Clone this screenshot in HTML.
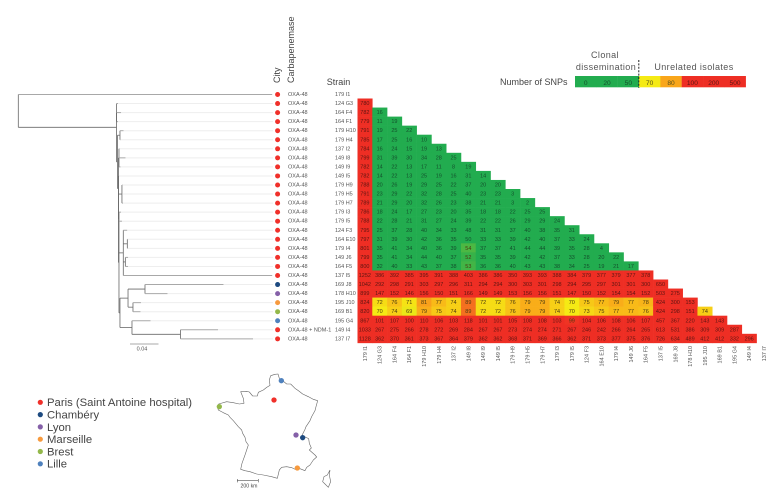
<!DOCTYPE html>
<html lang="en">
<head>
<meta charset="utf-8">
<title>SNP distance matrix and phylogeny</title>
<style>
html,body{margin:0;padding:0;background:#fff;}
svg{display:block;font-family:"Liberation Sans",sans-serif;}
</style>
</head>
<body>
<svg id="chart" xmlns="http://www.w3.org/2000/svg" width="783" height="504" viewBox="0 0 783 504"></svg>
<script>
const strains = ["179 I1","124 G3","164 F4","164 F1","179 H10","179 H4","137 I2","149 I8","149 I9","149 I5","179 H9","179 H5","179 H7","179 I3","179 I5","124 F3","164 E10","179 I4","149 J6","164 F5","137 I5","169 J8","178 H10","195 J10","169 B1","195 G4","149 I4","137 I7"];
const carbapenemases = ["OXA-48","OXA-48","OXA-48","OXA-48","OXA-48","OXA-48","OXA-48","OXA-48","OXA-48","OXA-48","OXA-48","OXA-48","OXA-48","OXA-48","OXA-48","OXA-48","OXA-48","OXA-48","OXA-48","OXA-48","OXA-48","OXA-48","OXA-48","OXA-48","OXA-48","OXA-48","OXA-48 + NDM-1","OXA-48"];
const cities = ["Paris","Paris","Paris","Paris","Paris","Paris","Paris","Paris","Paris","Paris","Paris","Paris","Paris","Paris","Paris","Paris","Paris","Paris","Paris","Paris","Paris","Chambéry","Lyon","Marseille","Brest","Lille","Paris","Paris"];
const snpMatrix = [
[780],
[782,16],
[779,11,19],
[791,19,25,22],
[785,17,25,16,10],
[784,16,24,15,19,13],
[799,31,39,30,34,28,25],
[782,14,22,13,17,11,8,19],
[782,14,22,13,25,19,16,31,14],
[788,20,26,19,29,25,22,37,20,20],
[791,23,29,22,32,28,25,40,23,23,3],
[789,21,29,20,32,26,23,38,21,21,3,2],
[786,18,24,17,27,23,20,35,18,18,22,25,25],
[788,22,28,21,31,27,24,39,22,22,26,29,29,24],
[795,25,37,28,40,34,33,48,31,31,37,40,38,35,31],
[797,31,39,30,42,36,35,50,33,33,39,42,40,37,33,24],
[801,35,41,34,40,36,39,54,37,37,41,44,44,39,35,28,4],
[799,35,41,34,44,40,37,52,35,35,39,42,42,37,33,28,20,22],
[800,32,40,33,43,37,38,53,36,36,40,43,43,38,34,25,19,21,17],
[1252,386,392,385,395,391,388,403,386,386,350,393,393,388,384,379,377,379,377,378],
[1042,292,298,291,303,297,296,311,294,294,300,303,301,298,294,295,297,301,301,300,650],
[899,147,152,146,156,150,151,166,149,149,153,156,156,151,147,150,152,154,154,152,503,275],
[824,72,76,71,81,77,74,89,72,72,76,79,79,74,70,75,77,79,77,78,424,300,153],
[820,70,74,69,79,75,74,89,72,72,76,79,79,74,70,73,75,77,77,76,424,298,151,74],
[867,101,107,100,110,106,103,118,101,101,105,108,108,103,99,104,106,108,106,107,457,367,220,143,143],
[1033,267,275,266,278,272,269,284,267,267,273,274,274,271,267,246,242,266,264,265,613,531,386,309,309,287],
[1128,362,370,361,373,367,364,379,362,362,368,371,369,366,362,371,373,377,375,376,726,634,489,412,412,332,296]
];
const tipDepths = [0.3588,0.141,0.1453,0.141,0.1488,0.1445,0.143,0.1516,0.1445,0.1417,0.1474,0.1474,0.1481,0.1453,0.1466,0.154,0.1545,0.1545,0.1552,0.1552,0.3588,0.2902,0.211,0.1735,0.1728,0.187,0.2825,0.332];
const tree = {d:0,kids:[0,{d:0.1389,at:3.68,kids:[
  {d:0.1389,kids:[1,2,3]},
  {d:0.1403,kids:[
    {d:0.1438,kids:[4,5]},
    {d:0.1417,kids:[
      {d:0.1424,kids:[6,7,8]},
      {d:0.1417,kids:[9,
        {d:0.1466,kids:[10,11,12]},
        {d:0.1424,kids:[13,14,
          {d:0.1485,kids:[15,{d:0.1542,kids:[16,17]},{d:0.1514,kids:[18,19]},20]},
          {d:0.1438,kids:[
            {d:0.1552,kids:[{d:0.1792,kids:[21,22]},{d:0.1622,kids:[23,24]}]},
            {d:0.1608,kids:[25,{d:0.2294,kids:[26,27]}]}
          ]}
        ]}
      ]}
    ]}
  ]}
]}]};
const legendTicks = [0,20,50,70,80,100,200,500];
const legendColors = ["#22ac4f","#22ac4f","#22ac4f","#f5ea14","#f9a61a","#ee2e24","#ee2e24","#ee2e24"];
const cityNames = ["Paris (Saint Antoine hospital)","Chambéry","Lyon","Marseille","Brest","Lille"];
const cityKeys = ["Paris","Chambéry","Lyon","Marseille","Brest","Lille"];
const cityColors = ["#f0302a","#1d4a80","#8560a8","#f79a3e","#93b84a","#4f81bd"];
const stopValues = [50,70,80,100];
const stopColors = [[34,172,79],[245,234,20],[249,166,26],[238,46,36]];

const svg = document.getElementById('chart');
const NS = 'http://www.w3.org/2000/svg';
function xCol(c){return 357.5 + 14.78*c;}
function yRow(r){return 94 + 9.05*r;}
function xTree(d){return 18.3 + 707*d;}
function make(tag, attrs, parent){
  const el = document.createElementNS(NS, tag);
  for (const k in attrs) el.setAttribute(k, attrs[k]);
  (parent||svg).appendChild(el);
  return el;
}
function colorOf(v){
  if (v <= stopValues[0]) return 'rgb('+stopColors[0].join(',')+')';
  for (let i=1;i<stopValues.length;i++){
    if (v <= stopValues[i]){
      const t=(v-stopValues[i-1])/(stopValues[i]-stopValues[i-1]);
      const c=stopColors[i].map((s,j)=>Math.round(stopColors[i-1][j]+(s-stopColors[i-1][j])*t));
      return 'rgb('+c.join(',')+')';
    }
  }
  return 'rgb('+stopColors[3].join(',')+')';
}

/* leader lines and tip rows */
const leaders = make('g',{});


const treeGroup = make('g',{fill:'none'});


strains.forEach(function(s,r){
  const l = make('line',{x1:xTree(tipDepths[r]),x2:273,y1:yRow(r)+0.5,y2:yRow(r)+0.5,stroke:'#eeeeee','stroke-width':1},leaders);
  
  
});
function layoutNode(n){
  if (typeof n === 'number') return yRow(n)+0.5;
  const ys = n.kids.map(layoutNode);
  const x = xTree(n.d);
  const lo = Math.min.apply(null,ys), hi = Math.max.apply(null,ys);
  const v = make('line',{x1:x,x2:x,y1:lo,y2:hi,stroke:'#666','stroke-width':0.8},treeGroup);
  
  
  n.kids.forEach(function(k,i){
    const tip = typeof k === 'number';
    const ex = tip ? xTree(tipDepths[k]) : xTree(k.d);
    const h = make('line',{x1:x,x2:ex,y1:ys[i],y2:ys[i],stroke:tip?'#a8a8a8':'#6a6a6a','stroke-width':tip?1:0.8},treeGroup);
    
    
  });
  return n.at !== undefined ? yRow(n.at) : (lo+hi)/2;
}
const rootY = layoutNode(tree);

/* rows */
strains.forEach(function(s,r){
  const city = cities[r];
  const dot = make('circle',{cx:277.6,cy:yRow(r)+0.5,r:2.5,fill:cityColors[cityKeys.indexOf(city)]});
  
  
  const ct = make('text',{x:288,y:yRow(r)+2,'font-size':5.5,fill:'#555'});
  ct.textContent = carbapenemases[r];
  
  
  const st = make('text',{x:335,y:yRow(r)+2,'font-size':5.5,fill:'#555'});
  st.textContent = s;
  
  
  const cx = xCol(r)+7.39;
  const cl = make('text',{x:0,y:0,'font-size':5.5,fill:'#555','text-anchor':'end',transform:'translate('+(cx+2)+',346) rotate(-90)'});
  cl.textContent = s;
  
  
});

/* heatmap */
const heat = make('g',{});


snpMatrix.forEach(function(row,i){
  row.forEach(function(v,c){
    const rowIndex = i+1;
    const cell = make('rect',{x:xCol(c),y:yRow(rowIndex)-4.55,width:15.08,height:9.35,fill:colorOf(v)},heat);
    
    
  });
});
snpMatrix.forEach(function(row,i){
  row.forEach(function(v,c){
    const rowIndex = i+1;
    const t = make('text',{x:xCol(c)+7.39,y:yRow(rowIndex)+2,'font-size':5.5,'text-anchor':'middle',fill:v>=100?'#5c1512':(v>50?'#4a3a10':'#14502c')},heat);
    t.textContent = v;
    
    
  });
});

/* colour legend */
const lx0 = 575, lw = 21.34;
legendTicks.forEach(function(v,i){
  const r = make('rect',{x:lx0+lw*i,y:76,width:lw+0.2,height:11.3,fill:legendColors[i]});
  
  
  const t = make('text',{x:lx0+lw*(i+0.5),y:85.2,'font-size':6.6,'text-anchor':'middle',fill:v>=70&&v<100?'#55501a':(v>=100?'#5c1512':'#14502c')});
  t.textContent = v;
  
  
});

/* city legend */
cityNames.forEach(function(n,i){
  const y = 402.3 + 12.3*i;
  const d = make('circle',{cx:40.3,cy:y,r:2.6,fill:cityColors[i]});
  
  
  const t = make('text',{x:47,y:y+3.9,'font-size':11.3,fill:'#444'});
  t.textContent = n;
  
  
});
</script>
<script>
(function(){
  const svg = document.getElementById('chart');
  const markup = `
  <text transform="translate(280,83) rotate(-90)" font-size="9" fill="#444">City</text>
  <text transform="translate(294,83) rotate(-90)" font-size="9" fill="#444">Carbapenemase</text>
  <text x="326.7" y="85" font-size="9" fill="#444">Strain</text>
  <text x="500" y="85" font-size="9" fill="#444">Number of SNPs</text>
  <text x="605" y="58" font-size="9" fill="#555" text-anchor="middle" letter-spacing="0.4">Clonal</text>
  <text x="606" y="70" font-size="9" fill="#555" text-anchor="middle" letter-spacing="0.4">dissemination</text>
  <text x="694" y="70" font-size="9" fill="#555" text-anchor="middle" letter-spacing="0.4">Unrelated  isolates</text>
  <line x1="638.8" x2="638.8" y1="60" y2="88" stroke="#222" stroke-width="1" stroke-dasharray="2 1.4"/>
  <line x1="130" x2="158.5" y1="344" y2="344" stroke="#bbb" stroke-width="1.2"/>
  <text x="142" y="350.5" font-size="5.5" fill="#555" text-anchor="middle">0.04</text>
  <g transform="translate(0,360) scale(0.33333)">
    <polyline fill="none" stroke="#666" stroke-width="1.8" stroke-linejoin="round" points="812,47 825,43 834,42 838,55 848,62 860,72 872,72 885,85 895,92 908,102 925,110 940,118 953,122 948,140 945,152 935,170 930,182 918,200 915,208 906,226 918,232 926,236 928,250 934,264 928,270 945,285 950,291 940,300 930,315 920,322 915,332 900,326 890,330 875,323 860,320 845,322 838,330 832,355 815,350 790,345 770,342 750,335 735,332 722,328 726,310 735,285 740,270 745,255 738,245 735,232 728,220 725,210 715,200 700,182 690,172 685,165 670,158 655,150 652,140 656,132 680,125 700,128 718,132 732,130 730,115 722,95 740,94 748,96 758,108 772,108 775,97 790,90 800,82 810,76 808,60 812,47"/>
    <polyline fill="none" stroke="#666" stroke-width="1.8" stroke-linejoin="round" points="990,330 988,345 992,365 985,382 975,372 968,365 972,350 982,345 990,330"/>
    <circle cx="822" cy="120" r="8" fill="#f0302a"/>
    <circle cx="844" cy="62" r="8" fill="#4f81bd"/>
    <circle cx="658" cy="140" r="8" fill="#93b84a"/>
    <circle cx="888" cy="225" r="8" fill="#8560a8"/>
    <circle cx="908" cy="233" r="8" fill="#1d4a80"/>
    <circle cx="892" cy="324" r="8" fill="#f79a3e"/>
    <path d="M712 357V367M712 362H775M775 357V367" fill="none" stroke="#555" stroke-width="1.8"/>
    <text x="747" y="383" font-size="15.5" fill="#444" text-anchor="middle">200 km</text>
  </g>`;
  const holder = document.createElementNS('http://www.w3.org/2000/svg','g');
  holder.innerHTML = markup;
  svg.appendChild(holder);
})();
</script>
</body>
</html>
